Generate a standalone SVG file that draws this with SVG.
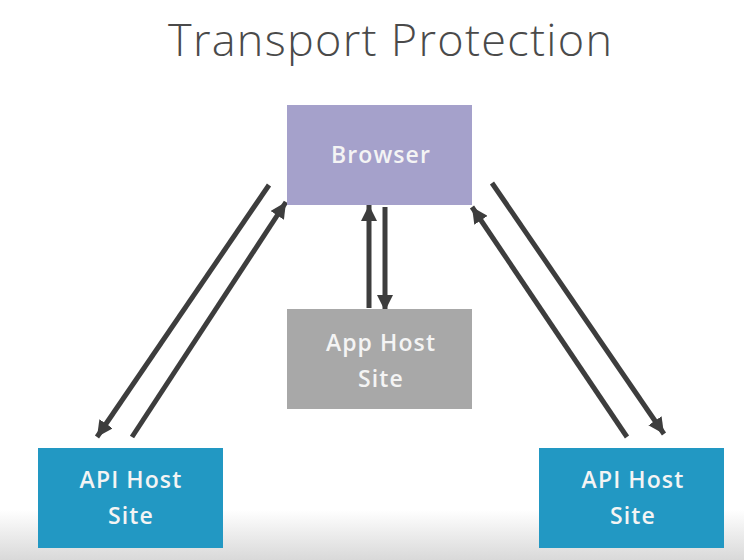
<svg xmlns="http://www.w3.org/2000/svg" width="744" height="560" viewBox="0 0 744 560">
<defs>
<linearGradient id="bg" x1="0" y1="0" x2="0" y2="1">
<stop offset="0" stop-color="#ffffff"/>
<stop offset="0.91" stop-color="#ffffff"/>
<stop offset="1" stop-color="#d9d9d9"/>
</linearGradient>
<marker id="ah" viewBox="0 0 10 10" refX="10" refY="5" markerWidth="3.2" markerHeight="3.2" markerUnits="strokeWidth" orient="auto">
<path d="M0,0 L10,5 L0,10 Z" fill="#3d3d3d"/>
</marker>
<style>
.lbl{font-family:"Open Sans","Liberation Sans",sans-serif;font-weight:600;font-size:23px;letter-spacing:1.1px;fill:#f4f4f4;text-anchor:middle}
.cn{stroke:#3d3d3d;stroke-width:5;fill:none;marker-end:url(#ah)}
</style>
</defs>
<rect x="0" y="0" width="744" height="560" fill="url(#bg)"/>
<text x="168" y="56" textLength="444" lengthAdjust="spacing" font-family="'Open Sans','Liberation Sans',sans-serif" font-weight="300" font-size="45" fill="#4a4a4a">Transport Protection</text>
<g id="connectors">
<line class="cn" x1="269" y1="185" x2="97" y2="437"/>
<line class="cn" x1="132" y1="437" x2="286" y2="202"/>
<line class="cn" x1="369" y1="308" x2="369" y2="205"/>
<line class="cn" x1="385" y1="207" x2="385" y2="311"/>
<line class="cn" x1="627" y1="437" x2="472" y2="207"/>
<line class="cn" x1="492" y1="183" x2="664" y2="434"/>
</g>
<g id="browser">
<rect x="287" y="105" width="185" height="100" fill="#a5a1cb"/>
<text class="lbl" x="381" y="163">Browser</text>
</g>
<g id="apphost">
<rect x="287" y="309" width="185" height="100" fill="#a8a8a8"/>
<text class="lbl" x="381" y="351">App Host</text>
<text class="lbl" x="381" y="387">Site</text>
</g>
<g id="apileft">
<rect x="38" y="448" width="185" height="100" fill="#2298c3"/>
<text class="lbl" x="131" y="488">API Host</text>
<text class="lbl" x="131" y="524">Site</text>
</g>
<g id="apiright">
<rect x="539" y="448" width="185" height="100" fill="#2298c3"/>
<text class="lbl" x="633" y="488">API Host</text>
<text class="lbl" x="633" y="524">Site</text>
</g>
</svg>
